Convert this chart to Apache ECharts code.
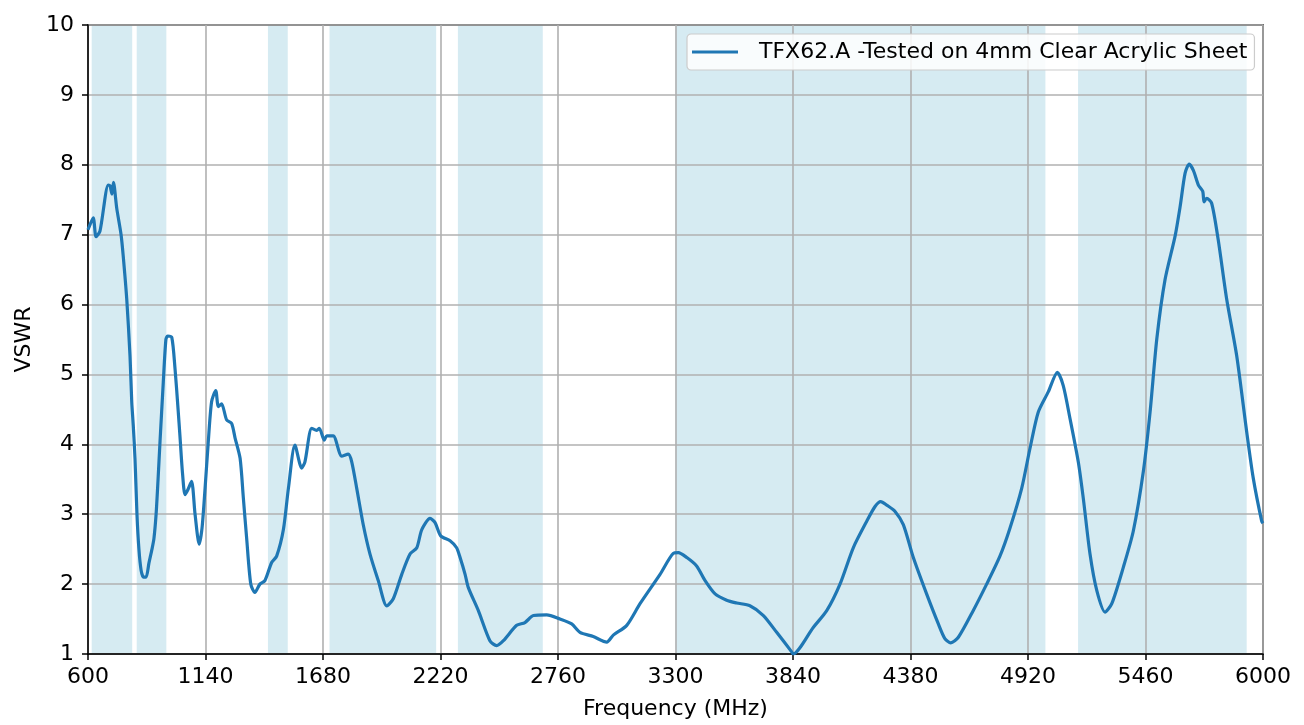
<!DOCTYPE html>
<html>
<head>
<meta charset="utf-8">
<script src="https://cdn.jsdelivr.net/npm/echarts@6/dist/echarts.min.js"></script>
<style>
html,body{margin:0;padding:0;background:#fff;overflow:hidden;width:1304px;height:725px;}
#chart{width:1304px;height:725px;}
</style>
</head>
<body>
<div id="chart"></div>
<script>
const seriesName = 'TFX62.A -Tested on 4mm Clear Acrylic Sheet';
const freqMHz = [600,624,637,655,693,701,710,717,732,752,762,778,793,801,808,816,825,834,844,855,867,880,894,903,913,922,931,946,958,966,985,1000,1014,1023,1034,1046,1059,1076,1092,1111,1124,1138,1152,1168,1187,1199,1214,1237,1260,1276,1299,1314,1329,1348,1367,1390,1413,1444,1467,1498,1521,1551,1582,1597,1628,1651,1663,1686,1697,1727,1766,1796,1812,1835,1865,1896,1934,1973,2003,2042,2080,2111,2134,2172,2195,2221,2264,2294,2310,2333,2348,2394,2447,2478,2509,2570,2608,2647,2708,2769,2823,2861,2922,2984,3014,3076,3137,3229,3290,3313,3352,3397,3436,3482,3535,3581,3642,3704,3765,3834,3840,3933,3995,4056,4117,4179,4217,4243,4271,4309,4347,4393,4454,4508,4538,4565,4600,4668,4730,4791,4837,4891,4929,4967,5013,5055,5082,5113,5151,5174,5205,5236,5274,5305,5358,5404,5450,5481,5512,5550,5596,5619,5642,5661,5680,5703,5723,5729,5741,5764,5794,5833,5879,5925,5955,5994,6000];
const vswr = [7.07,7.24,6.97,7.05,7.71,7.70,7.58,7.75,7.38,7.0,6.69,6.08,5.27,4.61,4.27,3.8,3.0,2.5,2.2,2.1,2.1,2.3,2.5,2.65,3.0,3.5,4.04,4.89,5.5,5.55,5.53,5.08,4.5,4.1,3.6,3.28,3.35,3.47,3.0,2.57,2.8,3.37,4.0,4.61,4.77,4.54,4.58,4.35,4.30,4.09,3.80,3.23,2.66,2.0,1.88,2.0,2.05,2.31,2.40,2.78,3.37,3.99,3.66,3.75,4.23,4.20,4.23,4.06,4.12,4.12,3.83,3.86,3.75,3.37,2.85,2.43,2.05,1.69,1.79,2.14,2.43,2.52,2.78,2.94,2.88,2.69,2.62,2.52,2.38,2.14,1.95,1.62,1.19,1.12,1.19,1.41,1.45,1.55,1.56,1.50,1.43,1.31,1.25,1.17,1.27,1.41,1.72,2.14,2.44,2.45,2.38,2.26,2.05,1.86,1.77,1.73,1.69,1.55,1.31,1.03,1.0,1.38,1.62,2.0,2.52,2.90,3.11,3.18,3.13,3.04,2.85,2.38,1.86,1.43,1.22,1.16,1.24,1.62,2.0,2.40,2.8,3.37,3.94,4.46,4.75,5.03,4.84,4.37,3.75,3.23,2.43,1.91,1.60,1.72,2.24,2.76,3.61,4.46,5.51,6.36,6.98,7.40,7.88,8.01,7.92,7.71,7.62,7.47,7.52,7.45,6.93,6.08,5.27,4.18,3.52,2.90,2.87];
const bands = [[617,803],[824,960],[1427,1518],[1710,2200],[2300,2690],[3300,5000],[5150,5925]];
const xTicks = {min:600, max:6000, interval:540};
const yTicks = {min:1, max:10, interval:1};

const font = 'DejaVu Sans';
const chart = echarts.init(document.getElementById('chart'), null, {renderer:'canvas', width:1304, height:725});
const axisCommon = {
  z:2,
  axisLine:{show:true, lineStyle:{color:'#000', width:1.5}},
  axisTick:{show:true, length:6, lineStyle:{color:'#000', width:1.5}},
  splitLine:{show:true, lineStyle:{color:'#b0b0b0', width:1.6}}
};
const option = {
  animation:false,
  backgroundColor:'#fff',
  grid:{left:88, right:41, top:25, bottom:65, show:true, borderColor:'#000', borderWidth:1.5, backgroundColor:'transparent', z:2},
  legend:{
    left:687, top:34,
    padding:[7,7,7,5],
    itemWidth:46, itemHeight:3,
    borderColor:'#cccccc', borderWidth:1.2, borderRadius:4,
    backgroundColor:'rgba(255,255,255,0.85)',
    textStyle:{fontFamily:font, fontSize:22, color:'#000', padding:[0,0,0,16]},
    data:[{name:seriesName, icon:'rect'}],
    z:10
  },
  xAxis:Object.assign({
    type:'value', min:xTicks.min, max:xTicks.max, interval:xTicks.interval,
    name:'Frequency (MHz)', nameLocation:'middle', nameGap:44,
    nameTextStyle:{fontFamily:font, fontSize:22, color:'#000'},
    axisLabel:{fontFamily:font, fontSize:22, color:'#000', margin:12, formatter:v=>String(v)}
  }, axisCommon),
  yAxis:Object.assign({
    type:'value', min:yTicks.min, max:yTicks.max, interval:yTicks.interval,
    name:'VSWR', nameLocation:'middle', nameGap:50, nameRotate:90,
    nameTextStyle:{fontFamily:font, fontSize:22, color:'#000'},
    axisLabel:{fontFamily:font, fontSize:22, color:'#000', margin:14, formatter:v=>String(v)}
  }, axisCommon),
  series:[{
    name:'bands',
    type:'line',
    data:[],
    z:1,
    silent:true,
    markArea:{
      silent:true,
      itemStyle:{color:'rgba(173,216,230,0.5)'},
      data:bands.map(b=>[{xAxis:b[0]},{xAxis:b[1]}])
    }
  },{
    name:seriesName,
    type:'line',
    data:freqMHz.map((f,i)=>[f, vswr[i]]),
    symbol:'none',
    smooth:0.25,
    clip:true,
    lineStyle:{color:'#1f77b4', width:3.2},
    itemStyle:{color:'#1f77b4'},
    z:5
  }]
};
chart.setOption(option);
</script>
</body>
</html>
